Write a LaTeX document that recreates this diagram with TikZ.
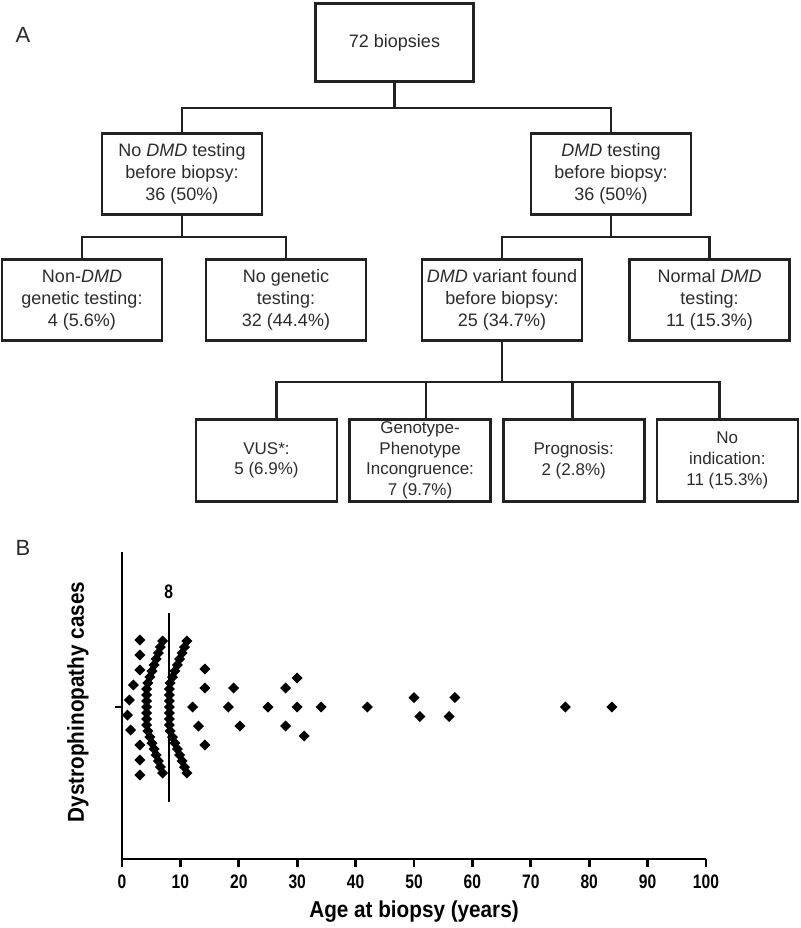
\documentclass[tikz,border=0pt]{standalone}
\usepackage{fontspec}
\setmainfont{Liberation Sans}
\newfontfamily\narrowfont[FakeStretch=0.8]{Liberation Sans}
\newfontfamily\axisfont[FakeStretch=0.9]{Liberation Sans}
\usepackage{xcolor}
\definecolor{ink}{HTML}{222222}
\definecolor{inktext}{HTML}{2B2B2B}
\usetikzlibrary{positioning}
\newcommand\treefont{\fontsize{18}{21.8}\selectfont}
\newcommand\leaffont{\fontsize{17}{20.6}\selectfont}
\newcommand\ticklab{\narrowfont\bfseries\fontsize{19.5}{20}\selectfont}
\newcommand\axislab{\axisfont\bfseries\fontsize{23}{24}\selectfont}
\newcommand\dmark[2]{\fill (#1,#2) +(0pt,-5.5pt) -- +(5.5pt,0pt) -- +(0pt,5.5pt) -- +(-5.5pt,0pt) -- cycle;}
\tikzset{
    box/.style={draw=ink, line width=2.6pt, text=inktext, align=center, font=\treefont, minimum width=160pt, minimum height=81pt, inner sep=0pt},
    smallbox/.style={box, font=\leaffont, minimum width=141pt, minimum height=82.5pt},
    link/.style={draw=ink, line width=2.6pt},
    panel/.style={text=inktext, font=\fontsize{22}{22}\selectfont},
    axisline/.style={line width=2.8pt}
}

\begin{document}
\begin{tikzpicture}[x=1pt, y=-1pt]
  \useasboundingbox (0,0) rectangle (800,928);

  % Panel A: flow of biopsies
  \node[panel] (lblA) at (23,35) {A};
  \node[box, minimum width=158pt, minimum height=78.5pt] (total) at (394.5,42.5) {72 biopsies};

  \node[box] (nodmd) at (182,174) {No \textit{DMD} testing\\before biopsy:\\36 (50\%)};
  \node[box] (dmd) at (611,174) {\textit{DMD} testing\\before biopsy:\\36 (50\%)};

  \node[box] (nondmd) at (82,300) {Non-\textit{DMD}\\genetic testing:\\4 (5.6\%)};
  \node[box] (nogen) at (286,300) {No genetic\\testing:\\32 (44.4\%)};
  \node[box] (variant) at (502,300) {\textit{DMD} variant found\\before biopsy:\\25 (34.7\%)};
  \node[box] (normal) at (709.5,300) {Normal \textit{DMD}\\testing:\\11 (15.3\%)};

  \node[smallbox] (vus) at (266.5,460.5) {VUS*:\\5 (6.9\%)};
  \node[smallbox, right=10pt of vus] (incong) {Genotype-\\Phenotype\\Incongruence:\\7 (9.7\%)};
  \node[smallbox, right=10pt of incong] (prog) {Prognosis:\\2 (2.8\%)};
  \node[smallbox, right=10pt of prog] (noind) {No\\indication:\\11 (15.3\%)};

  \draw[link] (total.south) -- ++(0,25) -| (nodmd.north);
  \draw[link] (total.south) -- ++(0,25) -| (dmd.north);
  \draw[link] (nodmd.south) -- ++(0,21) -| (nondmd.north);
  \draw[link] (nodmd.south) -- ++(0,21) -| (nogen.north);
  \draw[link] (dmd.south) -- ++(0,21) -| (variant.north);
  \draw[link] (dmd.south) -- ++(0,21) -| (normal.north);
  \foreach \leaf/\dx in {vus/10,incong/6,prog/-1,noind/-8}
    \draw[link] (variant.south) -- ++(0,40) -| ([xshift=\dx pt]\leaf.north);

  % Panel B: age at biopsy
  \node[panel] (lblB) at (23,548) {B};
  \node[rotate=90, font=\axislab] (ylab) at (78,702) {Dystrophinopathy cases};
  \node[font=\axislab] (xlab) at (414,912) {Age at biopsy (years)};

  \begin{scope}[shift={(122,707)}, x=5.84pt, y=-1pt]
    \draw[axisline] (0,-155) -- (0,152) -- (100,152);
    \draw[axisline] (0,0) -- ++(-7pt,0pt);
    \foreach \t in {0,10,...,100}
      \draw[axisline] (\t,152) -- (\t,160) node[below=3pt, font=\ticklab] {\t};

    \draw[line width=2.4pt] (8,-94) -- (8,95);
    \node[font=\ticklab] (median) at (8,-115) {8};

    \foreach \d in {-66,-60,...,66} {
      \pgfmathsetmacro\la{(24.7+0.353*max(0,abs(\d)-21))/5.84}
      \pgfmathsetmacro\ra{(47.3+0.4*max(0,abs(\d)-22))/5.84}
      \dmark{\la}{\d}
      \dmark{\ra}{\d}
    }
    \foreach \a/\o in {3.08/-67, 3.08/-52, 3.08/-37, 1.93/-22, 1.25/-7, 0.94/8, 1.49/23,
                       3.08/38, 3.08/53, 3.08/68, 12.1/0, 13.1/19, 14.2/-38, 14.2/-19, 14.2/38,
                       18.2/0, 19.1/-19, 20.2/19, 25/0, 28/-19, 28/19, 30/-29, 30/0, 31.2/29,
                       34.1/0, 42/0, 50/-9.5, 51/9.5, 56/9.5, 57/-9.5, 75.9/0, 83.9/0} {
      \dmark{\a}{\o}
    }
  \end{scope}

\end{tikzpicture}
\end{document}
